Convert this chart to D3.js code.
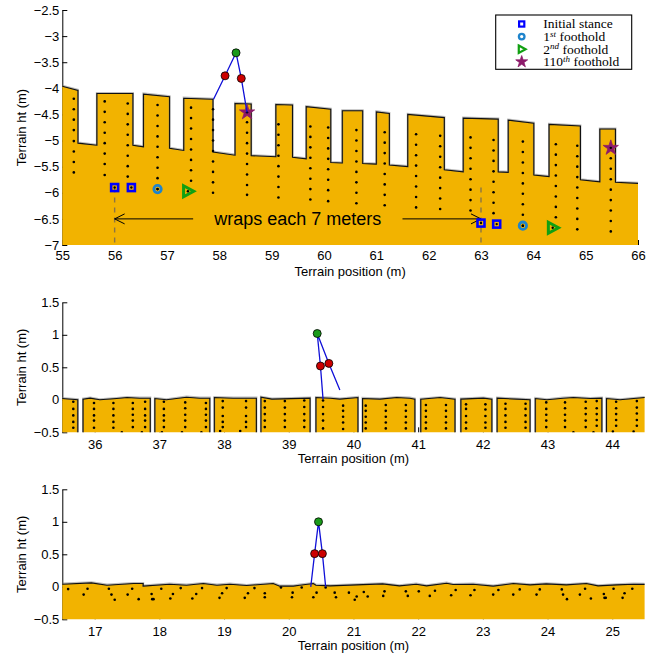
<!DOCTYPE html>
<html>
<head>
<meta charset="utf-8">
<script src="https://cdn.jsdelivr.net/npm/d3@7"></script>
<style>
  body { margin: 0; background: #fff; }
  svg { display: block; }
</style>
</head>
<body>
<svg id="chart" width="659" height="658"></svg>
<script>
// ---------- Panel 1: stepped terrain that wraps every 7 m ----------
const stairTerrain = [
  [54.9,-3.95],[55.0,-3.96],[55.30,-4.04],[55.30,-5.05],[55.66,-5.09],[55.66,-4.10],[56.35,-4.10],
  [56.35,-5.09],[56.55,-5.12],[56.55,-4.11],[57.05,-4.16],[57.05,-5.15],[57.32,-5.19],[57.32,-4.19],
  [57.88,-4.21],[57.88,-5.22],[58.30,-5.28],[58.30,-4.29],[58.61,-4.30],[58.61,-5.29],[59.08,-5.31],
  [59.08,-4.31],[59.40,-4.32],[59.40,-5.32],[59.66,-5.35],[59.66,-4.35],[60.13,-4.40],[60.13,-5.42],
  [60.35,-5.43],[60.35,-4.43],[60.74,-4.43],[60.74,-5.44],[61.00,-5.45],[61.00,-4.45],[61.25,-4.48],
  [61.25,-5.47],[61.60,-5.50],[61.60,-4.50],[62.30,-4.56],[62.30,-5.56],[62.66,-5.60],[62.66,-4.57],
  [63.33,-4.59],[63.33,-5.60],[63.52,-5.61],[63.52,-4.61],[64.01,-4.67],[64.01,-5.66],[64.30,-5.69],
  [64.30,-4.69],[64.90,-4.72],[64.90,-5.75],[65.27,-5.79],[65.27,-4.78],[65.57,-4.78],[65.57,-5.80],
  [66.00,-5.82],[66.10,-5.82]
];
// foothold columns: x and the heights of the dots in that column
const stairDots = [
  [55.22, [-4.20,-4.40,-4.60,-4.80,-5.01,-5.21,-5.41,-5.61]],
  [55.81, [-4.25,-4.45,-4.65,-4.85,-5.05,-5.25,-5.45,-5.66]],
  [56.25, [-4.29,-4.49,-4.69,-4.89,-5.09,-5.29,-5.49,-5.69]],
  [56.82, [-4.32,-4.52,-4.72,-4.92,-5.12,-5.32,-5.52,-5.72,-5.93]],
  [57.46, [-4.37,-4.57,-4.77,-4.97,-5.17,-5.37,-5.57,-5.77]],
  [57.88, [-4.40,-4.60,-4.80,-5.00,-5.20,-5.40,-5.60,-5.80,-6.00]],
  [58.53, [-4.46,-4.65,-4.85,-5.05,-5.25,-5.45,-5.65,-5.85,-6.04]],
  [59.13, [-4.69,-4.89,-5.09,-5.29,-5.49,-5.69,-5.89,-6.09]],
  [59.74, [-4.73,-4.93,-5.13,-5.33,-5.53,-5.73,-5.93,-6.13]],
  [60.08, [-4.75,-4.95,-5.15,-5.35,-5.55,-5.75,-5.95,-6.16]],
  [60.62, [-4.80,-5.00,-5.20,-5.40,-5.60,-5.80,-6.00,-6.20]],
  [61.16, [-4.84,-5.04,-5.24,-5.44,-5.64,-5.84,-6.04,-6.24]],
  [61.76, [-4.88,-5.08,-5.28,-5.48,-5.68,-5.88,-6.08,-6.28]],
  [62.22, [-4.91,-5.11,-5.31,-5.51,-5.71,-5.91,-6.11,-6.31]],
  [62.80, [-4.94,-5.14,-5.34,-5.54,-5.74,-5.94,-6.14,-6.34]],
  [63.24, [-4.99,-5.19,-5.39,-5.59,-5.79,-5.99,-6.19,-6.39]],
  [63.80, [-5.02,-5.22,-5.42,-5.62,-5.82,-6.02,-6.22,-6.42,-6.63]],
  [64.43, [-5.07,-5.27,-5.47,-5.67,-5.87,-6.07,-6.27,-6.47]],
  [64.84, [-5.10,-5.30,-5.50,-5.70,-5.90,-6.10,-6.30,-6.50,-6.70]],
  [65.48, [-5.14,-5.34,-5.54,-5.74,-5.94,-6.14,-6.34,-6.54,-6.74]]
];
const stanceFeet   = [[56.00,-5.90],[56.32,-5.90],[63.00,-6.58],[63.30,-6.60]];
const firstFeet    = [[56.82,-5.93],[63.80,-6.63]];
const secondFeet   = [[57.40,-5.97],[64.37,-6.67]];
const hundredTenth = [[58.53,-4.46],[65.48,-5.14]];
// foot, knee, hip, knee, foot
const stairRobot = [[57.89,-4.21],[58.11,-3.76],[58.32,-3.32],[58.42,-3.81],[58.53,-4.46]];
const wrapMarks  = [56, 63];
const wrapArrows = [[57.5, 56.0], [61.5, 63.0]];
const wrapText   = "wraps each 7 meters";
const stairXTicks = [55,56,57,58,59,60,61,62,63,64,65,66];
const stairYTicks = [-2.5,-3,-3.5,-4,-4.5,-5,-5.5,-6,-6.5,-7];

// ---------- Panel 2: flat blocks separated by narrow gaps ----------
const gapTerrain = [
  [35.40,0.02],[35.49,0.02],[35.74,0.0],[35.74,-0.6],[35.82,-0.6],
  [35.82,0.01],[35.93,0.025],[36.08,0.0],[36.34,0.02],[36.50,0.035],[36.70,0.025],[36.86,0.025],[36.86,-0.6],[36.93,-0.6],
  [36.93,0.02],[37.11,0.0],[37.42,0.04],[37.63,0.025],[37.78,0.025],[37.78,-0.6],[37.85,-0.6],
  [37.85,0.035],[38.14,0.025],[38.50,0.025],[38.50,-0.6],[38.57,-0.6],
  [38.57,0.04],[38.74,0.01],[39.33,0.025],[39.33,-0.6],[39.42,-0.6],
  [39.42,0.035],[39.64,0.025],[39.79,0.01],[40.07,0.035],[40.07,-0.6],[40.14,-0.6],
  [40.14,0.02],[40.41,0.01],[40.67,0.035],[40.87,0.025],[40.95,0.01],[40.95,-0.6],[41.04,-0.6],
  [41.04,0.01],[41.34,0.035],[41.57,0.01],[41.57,-0.6],[41.66,-0.6],
  [41.66,0.01],[42.01,0.025],[42.14,0.01],[42.14,-0.6],[42.22,-0.6],
  [42.22,0.025],[42.52,0.01],[42.73,0.0],[42.73,-0.6],[42.81,-0.6],
  [42.81,0.02],[42.99,0.0],[43.24,0.025],[43.40,0.035],[43.66,0.02],[43.84,0.025],[43.84,-0.6],[43.91,-0.6],
  [43.91,0.02],[44.12,0.0],[44.50,0.035],[44.60,0.035]
];
const gapDots = [
  [35.67, [-0.03,-0.14,-0.24,-0.34,-0.43]],
  [35.99, [-0.05,-0.14,-0.24,-0.32,-0.43]],
  [36.29, [-0.05,-0.14,-0.24,-0.34,-0.43]],
  [36.59, [-0.05,-0.14,-0.23,-0.32,-0.42]],
  [36.78, [-0.03,-0.14,-0.24,-0.32,-0.42]],
  [37.07, [-0.03,-0.14,-0.24,-0.32,-0.42]],
  [37.40, [-0.04,-0.13,-0.23,-0.32,-0.42]],
  [37.72, [-0.05,-0.14,-0.23,-0.32,-0.42]],
  [37.98, [-0.02,-0.12,-0.25,-0.34,-0.42]],
  [38.34, [-0.02,-0.12,-0.25,-0.34,-0.42]],
  [38.63, [-0.02,-0.12,-0.22,-0.32,-0.42]],
  [38.94, [-0.02,-0.12,-0.22,-0.32,-0.42]],
  [39.24, [-0.01,-0.11,-0.22,-0.32,-0.42]],
  [39.53, [-0.01,-0.11,-0.22,-0.32,-0.44]],
  [39.84, [-0.09,-0.17,-0.26,-0.35,-0.45]],
  [40.19, [-0.09,-0.17,-0.26,-0.35,-0.44]],
  [40.50, [-0.08,-0.17,-0.26,-0.35,-0.44]],
  [40.81, [-0.08,-0.17,-0.26,-0.35,-0.44]],
  [41.12, [-0.08,-0.17,-0.26,-0.35,-0.44]],
  [41.43, [-0.08,-0.17,-0.26,-0.35,-0.44]],
  [41.74, [-0.07,-0.14,-0.25,-0.35,-0.44]],
  [42.04, [-0.07,-0.15,-0.25,-0.35,-0.43]],
  [42.35, [-0.06,-0.14,-0.24,-0.34,-0.43]],
  [42.66, [-0.06,-0.14,-0.24,-0.34,-0.43]],
  [42.98, [-0.04,-0.14,-0.23,-0.32,-0.42]],
  [43.27, [-0.04,-0.13,-0.23,-0.32,-0.42]],
  [43.59, [-0.03,-0.13,-0.22,-0.32,-0.42]],
  [43.76, [-0.02,-0.13,-0.22,-0.31,-0.40]],
  [44.06, [-0.03,-0.13,-0.22,-0.31,-0.40]],
  [44.38, [-0.02,-0.12,-0.21,-0.31,-0.40]]
];
const gapLowDots = [[36.42,-0.5],[36.73,-0.5],[37.04,-0.5],[37.35,-0.5],[37.65,-0.5],[37.94,-0.48],
                    [38.25,-0.48],[43.40,-0.5],[43.71,-0.5],[44.01,-0.49],[44.33,-0.49]];
const gapRobot = [[39.53,0.01],[39.49,0.52],[39.44,1.02],[39.62,0.56],[39.79,0.15]];
const gapXTicks = [36,37,38,39,40,41,42,43,44];

// ---------- Panel 3: gently rough ground ----------
const roughTerrain = [
  [16.40,0.04],[16.50,0.04],[16.95,0.06],[17.19,0.025],[17.60,0.05],[17.75,0.05],[17.75,0.01],
  [18.16,0.04],[18.42,0.025],[18.68,0.05],[18.89,0.025],[19.09,0.04],[19.35,0.02],[19.76,0.05],
  [19.86,0.01],[20.07,0.01],[20.17,0.025],[20.38,0.05],[20.42,0.025],[20.64,0.015],[21.45,0.045],
  [21.71,0.015],[21.97,0.04],[22.13,0.015],[22.44,0.055],[22.54,0.035],[22.85,0.04],[23.16,0.01],
  [23.47,0.05],[23.73,0.03],[23.98,0.045],[24.29,0.03],[24.60,0.05],[24.78,0.015],[25.07,0.03],
  [25.33,0.04],[25.60,0.035]
];
const roughDots = [
  [16.59,-0.035],[16.83,-0.12],[16.89,-0.03],[17.22,-0.03],[17.26,-0.12],[17.31,-0.20],[17.51,-0.12],
  [17.58,-0.03],[17.68,-0.19],[17.88,-0.11],[17.89,-0.19],[17.91,-0.19],[18.03,-0.03],[18.17,-0.18],
  [18.21,-0.11],[18.33,-0.02],[18.51,-0.18],[18.57,-0.11],[18.66,-0.02],[18.93,-0.17],[18.97,-0.10],
  [19.04,-0.02],[19.32,-0.17],[19.37,-0.10],[19.47,-0.02],[19.63,-0.16],[19.63,-0.10],[19.88,-0.01],
  [20.05,-0.16],[20.06,-0.09],[20.20,-0.01],[20.38,-0.16],[20.43,-0.09],[20.57,-0.01],[20.71,-0.09],
  [20.73,-0.16],[20.93,-0.09],[21.02,-0.20],[21.05,-0.15],[21.16,-0.08],[21.22,-0.15],[21.46,-0.14],
  [21.48,-0.07],[21.81,-0.07],[21.84,-0.14],[22.01,-0.07],[22.18,-0.14],[22.26,-0.06],[22.51,-0.13],
  [22.58,-0.05],[22.81,-0.13],[22.87,-0.05],[23.16,-0.12],[23.24,-0.05],[23.47,-0.12],[23.57,-0.04],
  [23.83,-0.12],[23.88,-0.04],[24.22,-0.04],[24.24,-0.12],[24.30,-0.19],[24.50,-0.12],[24.58,-0.03],
  [24.67,-0.18],[24.87,-0.11],[24.88,-0.17],[24.90,-0.17],[25.02,-0.03],[25.16,-0.17],[25.19,-0.10],
  [25.31,-0.03]
];
const roughRobot = [[20.34,0.0],[20.40,0.51],[20.46,1.0],[20.52,0.51],[20.57,0.0]];
const roughXTicks = [17,18,19,20,21,22,23,24,25];
const lowYTicks = [1.5,1,0.5,0,-0.5];

const legendLabels = [["Initial stance"], ["1","st"," foothold"], ["2","nd"," foothold"], ["110","th"," foothold"]];
const xTitle = "Terrain position (m)";
const yTitle = "Terrain ht (m)";

// ---------- drawing ----------
const SANS = "'Liberation Sans', Arial, Helvetica, sans-serif";
const SERIF = "'Liberation Serif', 'Times New Roman', serif";
const GROUND = "#f2b300";
const svg = d3.select("#chart");
const fmt = v => String(v).replace("-", "\u2212");

const C = {
  stance: "#0000ff", first: "#1e84cc", second: "#12a012", tenth: "#8c1a6a",
  leg: "#1010d8", hip: "#1a9a1a", knee: "#cc0000"
};

function panel(id, x, y, xTicks, yTicks, tickPad) {
  const [xl, xr] = x.range(), [yb, yt] = y.range();
  const g = svg.append("g");
  svg.append("clipPath").attr("id", id)
    .append("rect").attr("x", xl).attr("y", yt).attr("width", xr - xl).attr("height", yb - yt);

  const ya = g.append("g").attr("transform", `translate(${xl},0)`)
    .call(d3.axisLeft(y).tickValues(yTicks).tickSizeInner(-5).tickSizeOuter(0).tickPadding(3).tickFormat(fmt));
  const xa = g.append("g").attr("transform", `translate(0,${yb})`)
    .call(d3.axisBottom(x).tickValues(xTicks).tickSizeInner(-5).tickSizeOuter(0).tickPadding(tickPad).tickFormat(fmt));
  xa.select(".domain").remove();
  [ya, xa].forEach(a => a.attr("font-family", SANS).attr("font-size", 13));

  g.append("text").attr("x", (xl + xr) / 2).attr("y", yb + 26.5).attr("dy", "0.35em")
    .attr("text-anchor", "middle").attr("font-family", SANS).attr("font-size", 13).text(xTitle);
  g.append("text").attr("transform", `translate(21.3,${(yt + yb) / 2}) rotate(-90)`)
    .attr("dy", "0.35em").attr("text-anchor", "middle").attr("font-family", SANS).attr("font-size", 13).text(yTitle);

  return g.append("g").attr("clip-path", `url(#${id})`);
}

function ground(plot, x, y, pts, floor) {
  plot.append("path").datum(pts)
    .attr("d", d3.area().x(d => x(d[0])).y0(y(floor)).y1(d => y(Math.max(d[1], floor))))
    .attr("fill", GROUND);
  plot.append("path").datum(pts)
    .attr("d", d3.line().x(d => x(d[0])).y(d => y(d[1])))
    .attr("fill", "none").attr("stroke", "#777").attr("stroke-width", 2).attr("stroke-opacity", 0.5)
    .attr("transform", "translate(0,-0.6)");
  plot.append("path").datum(pts)
    .attr("d", d3.line().x(d => x(d[0])).y(d => y(d[1])))
    .attr("fill", "none").attr("stroke", "#111").attr("stroke-width", 1.1);
}

function dots(plot, x, y, pts) {
  plot.append("g").selectAll("circle").data(pts).join("circle")
    .attr("cx", d => x(d[0])).attr("cy", d => y(d[1])).attr("r", 1.3).attr("fill", "#000");
}

function robot(plot, x, y, pts) {
  plot.append("path").datum(pts)
    .attr("d", d3.line().x(d => x(d[0])).y(d => y(d[1])))
    .attr("fill", "none").attr("stroke", C.leg).attr("stroke-width", 1.3).attr("stroke-linejoin", "round");
  const joints = [[pts[1], C.knee], [pts[3], C.knee], [pts[2], C.hip]];
  plot.append("g").selectAll("circle").data(joints).join("circle")
    .attr("cx", d => x(d[0][0])).attr("cy", d => y(d[0][1])).attr("r", 4)
    .attr("fill", d => d[1]).attr("stroke", "#000").attr("stroke-width", 0.8);
}

const triPath = s => `M${-0.75*s},${-0.95*s}L${1.0*s},0L${-0.75*s},${0.95*s}Z`;

function marker(sel, kind, big) {
  if (kind === "stance") {
    const s = big ? 7 : 5.2;
    sel.append("rect").attr("x", -s/2).attr("y", -s/2).attr("width", s).attr("height", s)
      .attr("fill", big ? "none" : "#fff").attr("stroke", C.stance).attr("stroke-width", big ? 2.6 : 2.2);
  } else if (kind === "first") {
    sel.append("circle").attr("r", big ? 3.7 : 2.8).attr("fill", big ? "none" : "#fff")
      .attr("stroke", C.first).attr("stroke-width", big ? 2.8 : 2.3);
  } else if (kind === "second") {
    sel.append("path").attr("d", triPath(big ? 5.8 : 3.9)).attr("fill", big ? "none" : "#fff")
      .attr("stroke", C.second).attr("stroke-width", big ? 3 : 2.2).attr("stroke-linejoin", "miter");
  } else {
    sel.append("path").attr("d", d3.symbol(d3.symbolStar, big ? 72 : 44)())
      .attr("fill", C.tenth).attr("stroke", C.tenth).attr("stroke-width", 0.8);
  }
}

function footMarks(plot, x, y, pts, kind) {
  pts.forEach(p => {
    const m = plot.append("g").attr("transform", `translate(${x(p[0])},${y(p[1])})`);
    marker(m, kind, true);
    m.append("circle").attr("r", 1.2).attr("fill", "#000");
  });
}

// Panel 1
{
  const x = d3.scaleLinear([55, 66], [62.3, 638]);
  const y = d3.scaleLinear([-7, -2.5], [245, 10]);
  const plot = panel("clip-stairs", x, y, stairXTicks, stairYTicks, 5.5);
  ground(plot, x, y, stairTerrain, -7.5);
  dots(plot, x, y, stairDots.flatMap(([cx, ys]) => ys.map(v => [cx, v])));

  plot.append("g").selectAll("line").data(wrapMarks).join("line")
    .attr("x1", d => x(d)).attr("x2", d => x(d)).attr("y1", y(-5.9)).attr("y2", y(-7))
    .attr("stroke", "#8a7444").attr("stroke-width", 1.4).attr("stroke-dasharray", "5,5");

  const aw = plot.append("g").attr("stroke", "#000").attr("stroke-width", 1).attr("fill", "none");
  wrapArrows.forEach(([from, to]) => {
    const y0 = y(-6.5), tx = x(to), dir = Math.sign(x(from) - tx);
    aw.append("line").attr("x1", x(from)).attr("x2", tx).attr("y1", y0).attr("y2", y0);
    aw.append("path").attr("d", `M${tx + dir*10},${y0 - 5}L${tx},${y0}L${tx + dir*10},${y0 + 5}`);
  });
  plot.append("text").attr("x", x(59.5)).attr("y", y(-6.5)).attr("dy", "0.35em")
    .attr("text-anchor", "middle").attr("font-family", SANS).attr("font-size", 18).text(wrapText);

  footMarks(plot, x, y, stanceFeet, "stance");
  footMarks(plot, x, y, firstFeet, "first");
  footMarks(plot, x, y, secondFeet, "second");
  footMarks(plot, x, y, hundredTenth, "tenth");
  robot(plot, x, y, stairRobot);

  // legend
  const lg = svg.append("g").attr("transform", "translate(495.7,15)");
  lg.append("rect").attr("width", 136).attr("height", 54.3).attr("fill", "#fff")
    .attr("stroke", "#000").attr("stroke-width", 1.1);
  const kinds = ["stance", "first", "second", "tenth"];
  legendLabels.forEach((lab, i) => {
    const ry = 9 + i * 12.6;
    marker(lg.append("g").attr("transform", `translate(26,${ry})`), kinds[i], false);
    const t = lg.append("text").attr("x", 47.6).attr("y", ry).attr("dy", "0.33em")
      .attr("font-family", SERIF).attr("font-size", 13.5);
    if (lab.length === 1) t.text(lab[0]);
    else {
      t.append("tspan").text(lab[0]);
      t.append("tspan").attr("dy", -4.5).attr("font-size", 9).attr("font-style", "italic").text(lab[1]);
      t.append("tspan").attr("dy", 4.5).text(lab[2]);
    }
  });
}

// Panel 2
{
  const x = d3.scaleLinear([35.5, 44.5], [62.3, 644.6]);
  const y = d3.scaleLinear([-0.5, 1.5], [432.3, 302.3]);
  const plot = panel("clip-gaps", x, y, gapXTicks, lowYTicks, 7);
  ground(plot, x, y, gapTerrain, -0.6);
  dots(plot, x, y, gapDots.flatMap(([cx, ys]) => ys.map(v => [cx, v])).concat(gapLowDots));
  robot(plot, x, y, gapRobot);
}

// Panel 3
{
  const x = d3.scaleLinear([16.5, 25.5], [62.3, 644.6]);
  const y = d3.scaleLinear([-0.5, 1.5], [619.3, 489.3]);
  const plot = panel("clip-rough", x, y, roughXTicks, lowYTicks, 7.5);
  ground(plot, x, y, roughTerrain, -0.6);
  dots(plot, x, y, roughDots);
  robot(plot, x, y, roughRobot);
}
</script>
</body>
</html>
